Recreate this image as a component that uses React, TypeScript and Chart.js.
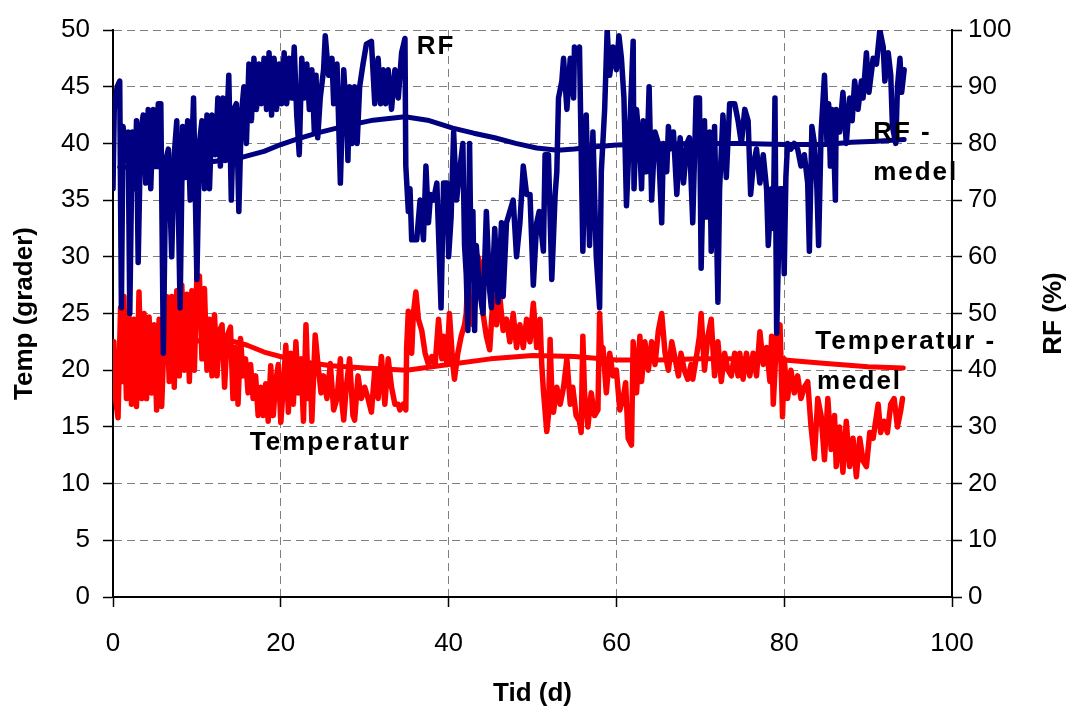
import React, { useEffect, useRef } from "react";
import { Chart, registerables } from "chart.js";

Chart.register(...registerables);

// ---- Data -----------------------------------------------------------------
const rfDays: number[] = [
  0, 0.15, 0.5, 0.8, 1.0, 1.2, 1.5, 1.8, 2.0, 2.3,
  2.6, 2.8, 3.0, 3.3, 3.6, 3.9, 4.2, 4.5, 4.8, 5.1,
  5.4, 5.7, 6.0, 6.3, 6.6, 7.0, 7.3, 7.6, 8.0, 8.3,
  8.6, 8.9, 9.2, 9.6, 10.0, 10.3, 10.6, 10.9, 11.2, 11.5,
  11.8, 12.2, 12.5, 12.8, 13.1, 13.4, 13.8, 14.1, 14.4, 14.7,
  15.0, 15.3, 15.6, 15.9, 16.2, 16.5, 16.8, 17.1, 17.4, 17.7,
  18.0, 18.3, 18.6, 18.9, 19.2, 19.5, 19.8, 20.1, 20.4, 20.7,
  21.0, 21.3, 21.6, 21.9, 22.2, 22.5, 22.8, 23.1, 23.4, 23.7,
  24.0, 24.2, 24.4, 24.7, 25.1, 25.3, 25.7, 26.1, 26.3, 26.7,
  27.1, 27.5, 27.9, 28.0, 28.2, 28.5, 28.8, 29.1, 29.4, 29.8,
  30.2, 30.8, 31.2, 31.6, 31.9, 32.2, 32.5, 32.8, 33.2, 33.6,
  34.0, 34.4, 34.8, 34.9, 35.2, 35.4, 35.6, 36.2, 36.6, 37.0,
  37.3, 37.6, 37.85, 38.2, 38.6, 39.1, 39.4, 39.8, 40.0, 40.3,
  40.6, 40.95, 41.3, 41.7, 41.9, 42.1, 42.3, 42.5, 42.7, 42.9,
  43.1, 43.3, 43.7, 44.1, 44.5, 44.9, 45.1, 45.5, 45.9, 46.3,
  46.5, 46.9, 47.3, 47.7, 48.1, 48.5, 48.9, 49.3, 49.7, 50.1,
  50.5, 50.8, 51.3, 51.5, 51.9, 52.3, 52.7, 52.9, 53.1, 53.5,
  53.7, 54.1, 54.5, 54.9, 55.0, 55.3, 55.6, 56.0, 56.4, 56.8,
  57.2, 57.6, 58.0, 58.2, 58.6, 58.9, 59.2, 59.6, 60.0, 60.3,
  60.6, 60.9, 61.2, 61.6, 62.0, 62.1, 62.4, 62.8, 63.0, 63.2,
  63.6, 63.9, 64.2, 64.6, 65.0, 65.4, 65.6, 66.0, 66.2, 66.4,
  66.8, 67.2, 67.6, 68.0, 68.4, 68.7, 69.1, 69.5, 69.9, 70.1,
  70.5, 70.7, 71.1, 71.3, 71.7, 72.1, 72.3, 72.7, 73.1, 73.5,
  74.1, 74.5, 74.9, 75.3, 75.7, 76.0, 76.3, 76.7, 77.1, 77.5,
  77.9, 78.1, 78.5, 78.7, 78.9, 79.1, 79.5, 79.8, 80.0, 80.2,
  80.4, 80.8, 81.2, 81.6, 82.0, 82.4, 82.8, 83.0, 83.3, 83.6,
  83.9, 84.1, 84.4, 84.8, 85.1, 85.3, 85.5, 85.7, 85.9, 86.1,
  86.2, 86.6, 87.0, 87.4, 87.8, 88.1, 88.4, 88.8, 89.2, 89.4,
  89.8, 90.1, 90.6, 91.0, 91.4, 91.8, 92.0, 92.4, 92.7, 92.9,
  93.3, 93.5, 93.8, 94.0, 94.3,
];
const rfValues: number[] = [
  72, 86, 90, 91, 51, 83, 77, 82, 50, 82,
  72, 84, 59, 82, 85, 73, 86, 72, 86, 76,
  87, 87, 43, 77, 79, 60, 78, 84, 51, 83,
  74, 84, 70, 88, 56, 80, 84, 72, 85, 72,
  85, 78, 88, 76, 88, 77, 92, 70, 86, 87,
  68, 85, 90, 80, 94, 84, 95, 86, 94, 87,
  95, 86, 96, 85, 95, 86, 94, 87, 96, 87,
  95, 88, 97, 85, 78, 95, 88, 94, 86, 93,
  82, 92, 81, 88, 93, 99, 92, 95, 87, 94,
  73, 93, 83, 77, 90, 80, 90, 80, 90, 94,
  97.5, 98, 87, 95, 87, 93, 87, 93, 86, 93,
  88, 96, 98.5, 76, 68, 72, 63, 63, 70, 63,
  76, 66, 71, 70, 73, 51, 73, 73, 60, 67,
  82, 70, 75, 80, 62, 57, 47, 80, 56, 68,
  47, 62, 54, 50, 68, 54, 51, 65, 52, 66,
  53, 66, 68, 70, 60, 66, 76, 71, 71, 55,
  66, 68, 61, 78, 78, 56, 71, 75, 88, 91,
  95, 86, 95, 88, 97, 95, 97, 61, 85, 62,
  82, 60, 51, 75, 86, 100, 92, 97, 93, 99,
  95, 88, 69, 83, 98, 72, 86, 79, 72, 84,
  75, 90, 70, 82, 80, 66, 80, 75, 83, 79,
  82, 71, 81, 73, 80, 81, 66, 88, 88, 58,
  84, 67, 82, 61, 83, 52, 72, 85, 74, 87,
  87, 84, 80, 86, 84, 71, 76, 79, 73, 78,
  72, 62, 72, 65, 88, 46.5, 72, 72, 57, 74,
  80, 79, 80, 79, 76, 78, 73, 61, 83, 80,
  72, 62, 82, 92, 80, 87, 76, 86, 80, 70,
  86, 82, 89, 80, 88, 84, 91, 86, 91, 88,
  96, 89, 95, 94, 100, 97, 91, 96, 92, 83,
  80, 90, 95, 89, 93,
];

const rfMeanDays: number[] = [
  0.8, 3, 6, 9, 12, 15, 18, 20, 22, 24.5, 27.5, 31, 34.8, 37.5,
  40.5, 43, 45.5, 48, 50.5, 53, 55, 57.5, 60, 65, 70, 75, 80,
  85, 88, 91, 94.3,
];
const rfMeanValues: number[] = [
  75.8, 75.9, 75.9, 76.2, 76.8, 77.4, 78.6, 79.8, 80.8, 81.9, 83.0, 84.1, 84.7, 84.1,
  82.7, 81.8, 81.0, 80.0, 79.2, 78.8, 79.0, 79.4, 79.7, 79.9, 80.0, 80.0, 79.8,
  79.8, 80.2, 80.4, 80.7,
];

const tempDays: number[] = [
  0, 0.1, 0.3, 0.6, 0.9, 1.1, 1.3, 1.6, 1.9, 2.2,
  2.5, 2.8, 3.1, 3.4, 3.7, 4.0, 4.3, 4.6, 4.9, 5.2,
  5.5, 5.8, 6.1, 6.4, 6.7, 7.0, 7.3, 7.6, 7.9, 8.2,
  8.5, 8.8, 9.1, 9.4, 9.7, 10.0, 10.3, 10.6, 10.9, 11.2,
  11.5, 11.8, 12.1, 12.4, 12.7, 13.0, 13.3, 13.6, 14.0, 14.3,
  14.6, 14.9, 15.2, 15.5, 15.8, 16.1, 16.4, 16.7, 17.0, 17.3,
  17.6, 17.9, 18.2, 18.5, 18.8, 19.1, 19.4, 19.7, 20.0, 20.3,
  20.6, 20.9, 21.2, 21.5, 21.8, 22.1, 22.4, 22.7, 23.0, 23.3,
  23.5, 23.7, 24.1, 24.5, 24.8, 25.1, 25.5, 25.9, 26.3, 26.7,
  27.1, 27.3, 27.5, 27.8, 28.2, 28.6, 28.8, 29.2, 29.6, 30.0,
  30.4, 30.8, 31.2, 31.6, 32.0, 32.4, 32.8, 33.2, 33.6, 34.0,
  34.2, 34.6, 34.9, 35.0, 35.2, 35.4, 35.6, 35.8, 36.1, 36.4,
  36.8, 37.2, 37.6, 38.0, 38.4, 38.8, 39.2, 39.4, 39.8, 40.1,
  40.5, 40.7, 41.1, 41.5, 41.9, 42.1, 42.3, 42.5, 42.9, 43.3,
  43.5, 43.7, 44.1, 44.5, 44.9, 45.3, 45.7, 46.1, 46.5, 46.9,
  47.3, 47.7, 48.1, 48.5, 48.9, 49.3, 49.7, 50.1, 50.5, 50.9,
  51.1, 51.3, 51.7, 51.9, 52.1, 52.3, 52.5, 52.9, 53.3, 53.7,
  54.1, 54.5, 54.8, 55.2, 55.6, 55.8, 56.0, 56.2, 56.6, 57.0,
  57.4, 57.8, 58.0, 58.2, 58.4, 58.8, 59.2, 59.6, 60.0, 60.4,
  60.8, 61.1, 61.4, 61.8, 62.0, 62.4, 62.8, 63.0, 63.4, 63.8,
  64.2, 64.6, 65.0, 65.4, 65.8, 66.2, 66.6, 67.0, 67.4, 67.7,
  68.1, 68.5, 68.9, 69.1, 69.5, 69.9, 70.1, 70.5, 70.9, 71.3,
  71.7, 72.1, 72.5, 72.9, 73.3, 73.7, 74.1, 74.5, 74.7, 75.1,
  75.5, 75.9, 76.3, 76.7, 77.1, 77.5, 77.9, 78.3, 78.5, 78.7,
  79.1, 79.5, 79.8, 80.0, 80.4, 80.8, 81.2, 81.6, 82.0, 82.4,
  82.8, 83.2, 83.6, 84.0, 84.4, 84.8, 85.2, 85.6, 86.0, 86.2,
  86.6, 87.0, 87.4, 87.8, 88.2, 88.6, 89.0, 89.4, 89.8, 90.2,
  90.6, 91.2, 91.5, 91.9, 92.3, 92.7, 93.1, 93.5, 93.9, 94.1,
];
const tempValues: number[] = [
  19.5, 22.5, 17.5, 15.8, 25.5, 19, 26.5, 17.5, 25, 17,
  24.5, 16.8, 26.9, 17.5, 25, 17.5, 24.7, 18, 24, 16.5,
  24.5, 16.8, 23, 26.5, 19, 26.5, 18.5, 27, 19.5, 27.5,
  20, 26.7, 19, 27, 20, 28.4, 28.3, 21, 27.2, 20,
  24.5, 19.5, 24.9, 19.5, 23.5, 24, 18.5, 23, 23.8, 17.5,
  22, 17, 22.8, 19.5, 21, 18, 20.5, 17.5, 19.5, 16,
  18.5, 16, 18.8, 15.5, 20.4, 16, 19, 20.5, 15.4, 18.5,
  22.2, 16.3, 21.5, 17, 22.5, 18, 21, 15.5, 24, 17.5,
  20.5, 15.5, 23.1, 20, 18, 19.5, 17.5, 20.6, 16.5, 17.5,
  21, 17, 15.6, 18.5, 21, 16, 15.6, 19.5, 17.5, 18.5,
  17.5, 16.3, 20, 17.5, 21.2, 17, 21, 18.5, 17, 17,
  16.5, 17, 16.5, 22, 25.2, 24.5, 21.5, 25, 26.9, 24.5,
  23.5, 21.5, 20.5, 21.2, 20.5, 24.5, 21, 23, 20.5, 25,
  20.5, 19.2, 21.5, 23, 24, 25, 28.3, 26, 24, 27,
  30, 29.5, 25, 23, 21.8, 26.5, 24, 26.5, 23.5, 24.5,
  22.5, 25, 22, 24, 22, 24.5, 22.5, 25.9, 22, 24.5,
  20.5, 18.2, 14.6, 16, 22.7, 18, 16.3, 18.5, 17, 18.5,
  21, 17, 18.5, 16, 15.5, 14.5, 23, 18, 15, 18,
  16, 16.5, 25, 21.5, 22, 18, 21.5, 19.5, 20, 16.5,
  17.5, 18.9, 14, 13.4, 22.5, 18, 23, 19, 22.5, 20,
  22.5, 20.5, 23.5, 25, 21.5, 20, 22.5, 21, 19.5, 21.5,
  20, 19.2, 20.5, 19.2, 21, 23, 25, 20, 23, 24.5,
  19.5, 22.5, 19, 21.5, 20, 19.5, 21.5, 19.5, 21.5, 19.2,
  21.5, 19.5, 21.5, 19.5, 23.4, 20.5, 22, 19, 23, 17,
  23, 24, 15.9, 21, 17.5, 20, 18, 19.5, 17.5, 18.5,
  19, 15, 12.2, 17.5, 16, 12.1, 17.5, 13, 16, 11.5,
  15, 11, 15.5, 11.5, 14, 10.6, 14, 12, 11.5, 14.5,
  14, 17, 14.5, 15.5, 14.5, 17, 17.5, 15, 16.5, 17.5,
];

const tempMeanDays: number[] = [
  0.5, 3, 6, 9, 11.5, 14, 16, 18, 20.5, 23, 26, 30, 35, 40,
  45, 50, 55, 60, 65, 70, 75, 80, 85, 90, 94.2,
];
const tempMeanValues: number[] = [
  21.5, 21.6, 21.9, 22.4, 22.8, 22.6, 22.2, 21.6, 21.1, 20.7, 20.4, 20.2, 20.0, 20.5,
  21.0, 21.3, 21.2, 20.9, 20.9, 21.0, 21.0, 20.9, 20.6, 20.3, 20.2,
];

// Axis ranges / ticks
const xTicks = { min: 0, max: 100, step: 20 };
const tempTicks = { min: 0, max: 50, step: 5 };
const rfTicks = { min: 0, max: 100, step: 10 };

// Text labels placed in data coordinates
const labels = [
  { text: "RF", day: 36.2, value: 95.8, axis: "y1" },
  { text: "RF -", day: 90.6, value: 80.6, axis: "y1" },
  { text: "medel", day: 90.6, value: 73.5, axis: "y1" },
  { text: "Temperatur -", day: 83.7, value: 21.9, axis: "y" },
  { text: "medel", day: 83.9, value: 18.3, axis: "y" },
  { text: "Temperatur", day: 16.3, value: 13.0, axis: "y" },
];

const FONT = "'Liberation Sans', Arial, sans-serif";
const NAVY = "#000080";
const RED = "#FF0000";

function pairs(xs: number[], ys: number[]) {
  return xs.map((x, i) => ({ x, y: ys[i] }));
}

const labelPlugin = {
  id: "textLabels",
  afterDatasetsDraw(chart: any) {
    const { ctx, scales, chartArea } = chart;
    ctx.save();
    ctx.fillStyle = "#000";
    ctx.font = `bold 26px ${FONT}`;
    (ctx as any).letterSpacing = "2px";
    ctx.textAlign = "left";
    ctx.textBaseline = "alphabetic";
    for (const l of labels) {
      const x = scales.x.getPixelForValue(l.day);
      const y = scales[l.axis].getPixelForValue(l.value);
      ctx.fillText(l.text, x, y);
    }
    (ctx as any).letterSpacing = "0px";
    const y1 = scales.y1;
    ctx.translate(y1.right - 18, (chartArea.top + chartArea.bottom) / 2);
    ctx.rotate(-Math.PI / 2);
    ctx.textAlign = "center";
    ctx.textBaseline = "middle";
    ctx.fillText("RF (%)", 0, 0);
    ctx.restore();
  },
};

export default function App() {
  const ref = useRef<HTMLCanvasElement>(null);
  useEffect(() => {
    if (!ref.current) return;
    const gridBase = {
      color: "#7f7f7f",
      lineWidth: 1,
      tickColor: "#000",
      tickBorderDash: [],
      tickLength: 10,
      tickWidth: 1.5,
    };
    const borderBase = { display: true, color: "#000", width: 2, dash: [8, 5] };
    const tickFont = { family: FONT, size: 26 };
    const titleFont = { family: FONT, size: 26, weight: "bold" as const };
    const lineBase = {
      pointRadius: 0,
      tension: 0,
      borderJoinStyle: "round" as const,
      borderCapStyle: "round" as const,
    };
    const chart = new Chart(ref.current, {
      type: "line",
      data: {
        datasets: [
          { label: "RF - medel", data: pairs(rfMeanDays, rfMeanValues), borderColor: NAVY, borderWidth: 5, yAxisID: "y1", ...lineBase },
          { label: "RF", data: pairs(rfDays, rfValues), borderColor: NAVY, borderWidth: 5.5, yAxisID: "y1", ...lineBase },
          { label: "Temperatur - medel", data: pairs(tempMeanDays, tempMeanValues), borderColor: RED, borderWidth: 5, yAxisID: "y", ...lineBase },
          { label: "Temperatur", data: pairs(tempDays, tempValues), borderColor: RED, borderWidth: 5.5, yAxisID: "y", ...lineBase },
        ],
      },
      options: {
        animation: false,
        responsive: false,
        devicePixelRatio: 1,
        layout: { padding: { top: 30, left: 0, right: 0, bottom: 0 } },
        plugins: { legend: { display: false }, tooltip: { enabled: false } },
        scales: {
          x: {
            type: "linear",
            min: xTicks.min,
            max: xTicks.max,
            ticks: { stepSize: xTicks.step, color: "#000", font: tickFont, padding: 21, maxRotation: 0 },
            grid: gridBase,
            border: borderBase,
            title: { display: true, text: "Tid (d)", color: "#000", font: titleFont, padding: { top: 0, bottom: 0 } },
            afterFit: (s: any) => { s.height = 112; },
          },
          y: {
            type: "linear",
            position: "left",
            min: tempTicks.min,
            max: tempTicks.max,
            ticks: { stepSize: tempTicks.step, color: "#000", font: tickFont, padding: 13 },
            grid: gridBase,
            border: borderBase,
            title: { display: true, text: "Temp (grader)", color: "#000", font: titleFont, padding: { top: 9, bottom: 0 } },
            afterFit: (s: any) => { s.width = 113; },
          },
          y1: {
            type: "linear",
            position: "right",
            min: rfTicks.min,
            max: rfTicks.max,
            ticks: { stepSize: rfTicks.step, color: "#000", font: tickFont, padding: 6 },
            grid: { ...gridBase, drawOnChartArea: false },
            border: borderBase,
            afterFit: (s: any) => { s.width = 120; },
          },
        },
      },
      plugins: [labelPlugin],
    } as any);
    return () => chart.destroy();
  }, []);
  return (
    <div style={{ position: "absolute", left: 0, top: 0, width: 1072, height: 709, background: "#fff" }}>
      <canvas ref={ref} width={1072} height={709} style={{ display: "block", width: 1072, height: 709 }} />
    </div>
  );
}
